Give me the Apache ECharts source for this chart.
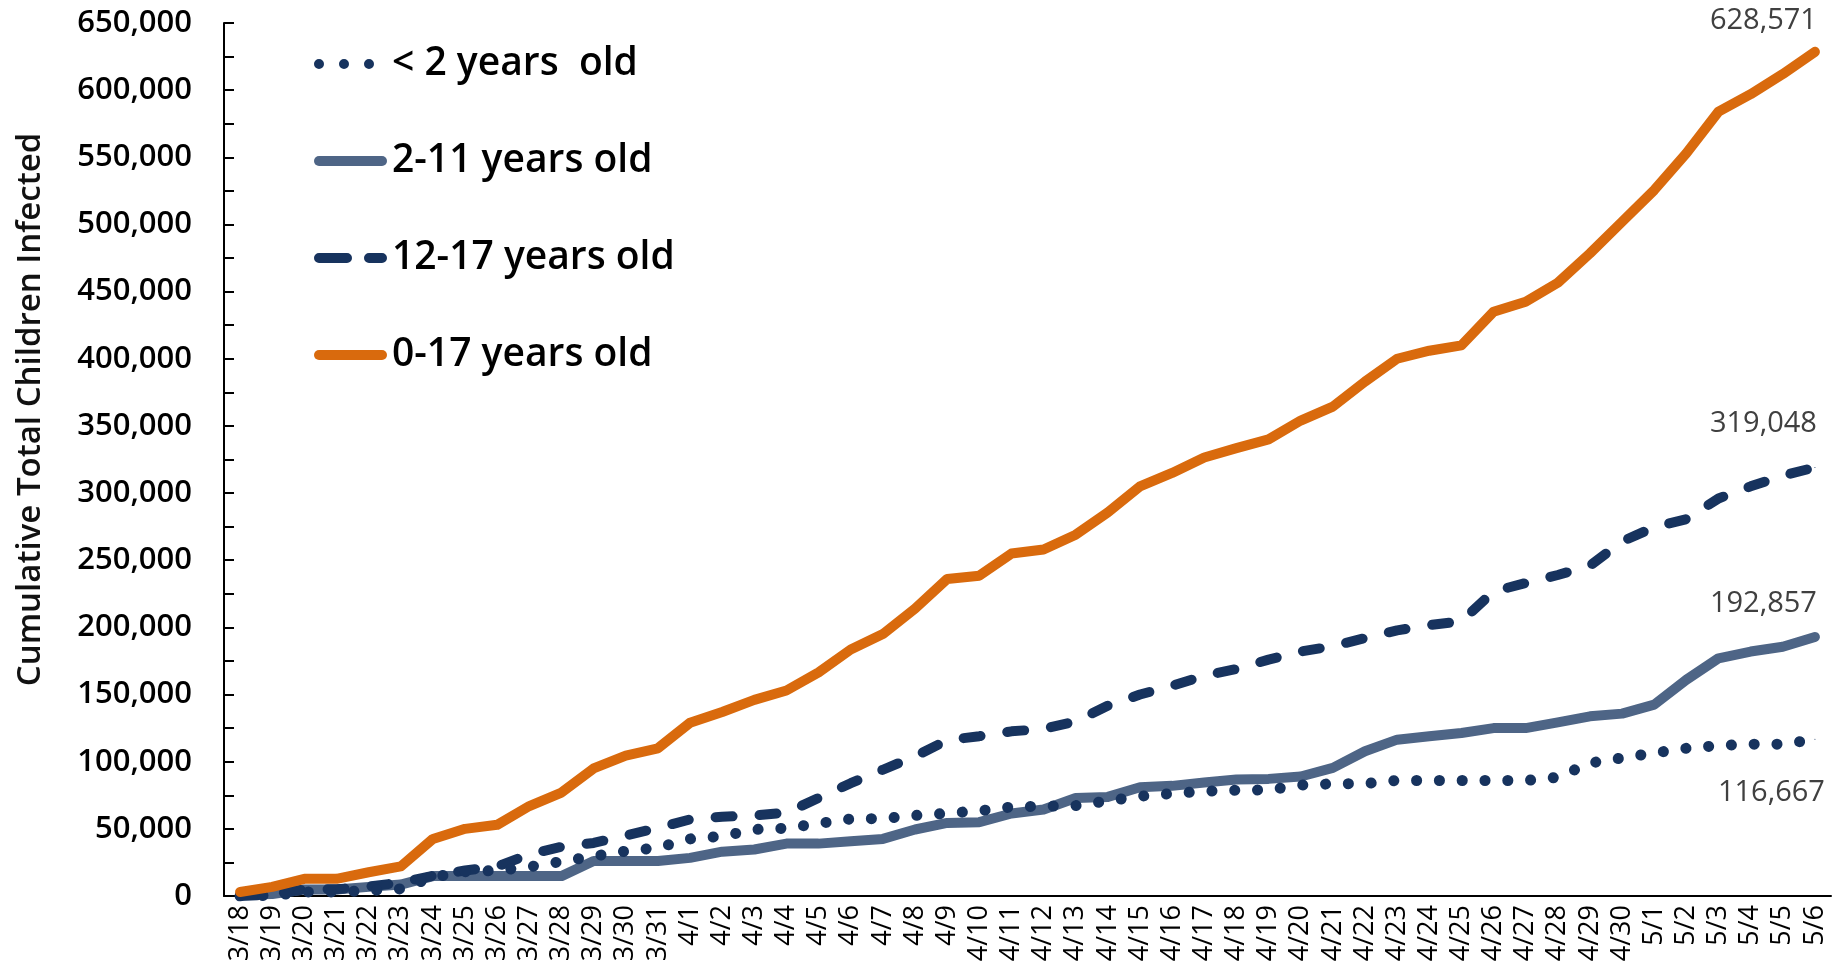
<!DOCTYPE html>
<html>
<head>
<meta charset="utf-8">
<title>Cumulative Total Children Infected</title>
<script src="https://cdn.jsdelivr.net/npm/echarts@6/dist/echarts.min.js"></script>
<style>
  html, body { margin: 0; padding: 0; background: #fff; }
  #chart { width: 1839px; height: 962px; }
</style>
</head>
<body>
<div id="chart"></div>
<script>
// dates on the x axis
const dates = [
    "3/18", "3/19", "3/20", "3/21", "3/22", "3/23", "3/24", "3/25", "3/26", "3/27",
    "3/28", "3/29", "3/30", "3/31", "4/1", "4/2", "4/3", "4/4", "4/5", "4/6",
    "4/7", "4/8", "4/9", "4/10", "4/11", "4/12", "4/13", "4/14", "4/15", "4/16",
    "4/17", "4/18", "4/19", "4/20", "4/21", "4/22", "4/23", "4/24", "4/25", "4/26",
    "4/27", "4/28", "4/29", "4/30", "5/1", "5/2", "5/3", "5/4", "5/5", "5/6"
];

// cumulative counts per age group
const under2 = [
    0, 500, 3000, 3000, 4000, 5300, 14000, 18000, 19000, 21700,
    25700, 29600, 33400, 36000, 42500, 44500, 49500, 50500, 54000, 57400,
    57700, 60000, 61600, 63400, 66300, 66800, 67300, 70800, 74300, 76300,
    78000, 78700, 79000, 82600, 83500, 83700, 86000, 86000, 86000, 86000,
    86000, 88400, 99000, 102800, 106500, 110000, 112000, 113000, 113000, 116667
];
const age2to11 = [
    1000, 1500, 4800, 4800, 6800, 8500, 14800, 14800, 14800, 14800,
    14800, 26000, 26000, 26000, 28400, 33000, 34600, 39000, 39000, 40800,
    42500, 49500, 54400, 55000, 61400, 64400, 73000, 73800, 81000, 82000,
    84500, 86700, 87200, 89000, 95400, 107800, 116400, 119000, 121400, 125000,
    125000, 129300, 133800, 135800, 142500, 161000, 177000, 182000, 185600, 192857
];
const age12to17 = [
    0, 1000, 5000, 5000, 7000, 10000, 15000, 19000, 22000, 31000,
    36600, 39500, 45000, 50700, 57000, 59000, 60000, 62000, 73000, 84000,
    94000, 104000, 116000, 119000, 122600, 124400, 130000, 141700, 150000, 156600,
    164000, 169000, 176000, 182000, 186000, 192000, 197800, 201700, 204500, 226800,
    233000, 239000, 246000, 264000, 274600, 280600, 296000, 305000, 313000, 319048
];
const age0to17 = [
    3000, 6800, 12800, 12800, 17700, 22000, 42500, 50000, 53000, 67000,
    77000, 95000, 104500, 110000, 129000, 137000, 146000, 153000, 166500, 183500,
    195000, 214000, 236000, 238500, 255000, 258000, 269000, 285600, 305000, 315000,
    326500, 333500, 340000, 354000, 364400, 383000, 400000, 406000, 410000, 435000,
    442500, 456600, 478500, 502000, 525600, 553000, 584000, 597000, 612000, 628571
];

const seriesNames = ["< 2 years  old", "2-11 years old", "12-17 years old", "0-17 years old"];

const NAVY = "#17335e";
const SLATE = "#4e6586";
const ORANGE = "#d96a0d";
const FONT = "'Open Sans', 'Noto Sans', sans-serif";

// legend swatches drawn as filled shapes in a 73 x 10 box
const ICON_SOLID = "path://M5 0H68A5 5 0 0 1 68 10H5A5 5 0 0 1 5 0Z";
const ICON_DASH = "path://M5 0H33A5 5 0 0 1 33 10H5A5 5 0 0 1 5 0Z" +
    "M55 0H68A5 5 0 0 1 68 10H55A5 5 0 0 1 55 0Z";
const ICON_DOT = "path://M0 5A5 5 0 1 0 10 5A5 5 0 1 0 0 5Z" +
    "M25 5A5 5 0 1 0 35 5A5 5 0 1 0 25 5Z" +
    "M50 5A5 5 0 1 0 60 5A5 5 0 1 0 50 5Z" +
    "M73 0L73 10L73 0Z";

const fmt = v => Math.round(v).toLocaleString("en-US");

// put a value label on the last point only
function withEndLabel(values, offset) {
    const last = values.length - 1;
    return values.map((v, i) => i !== last ? v : {
        value: v,
        symbol: "circle",
        symbolSize: 1,
        label: {
            show: true,
            position: "top",
            distance: 0,
            align: "right",
            verticalAlign: "middle",
            offset: offset,
            formatter: p => fmt(p.value),
            fontFamily: FONT,
            fontSize: 29,
            color: "#404040"
        }
    });
}

const chart = echarts.init(document.getElementById("chart"), null, { renderer: "canvas" });

const option = {
    animation: false,
    backgroundColor: "#ffffff",
    grid: {
        left: 224,
        right: 8,
        top: 23,
        bottom: 66,
        containLabel: false,
        outerBoundsMode: "none"
    },
    legend: {
        orient: "vertical",
        left: 309,
        top: 39,
        itemWidth: 73,
        itemHeight: 10,
        itemGap: 57,
        selectedMode: false,
        itemStyle: { borderWidth: 0 },
        textStyle: {
            fontFamily: FONT,
            fontSize: 39,
            fontWeight: 600,
            color: "#000",
            lineHeight: 40
        },
        data: [
            { name: seriesNames[0], icon: ICON_DOT },
            { name: seriesNames[1], icon: ICON_SOLID },
            { name: seriesNames[2], icon: ICON_DASH },
            { name: seriesNames[3], icon: ICON_SOLID }
        ]
    },
    xAxis: {
        type: "category",
        data: dates,
        boundaryGap: true,
        axisLine: { lineStyle: { color: "#000", width: 2 } },
        axisTick: { show: false },
        axisLabel: {
            rotate: 90,
            interval: 0,
            margin: 9,
            fontFamily: FONT,
            fontSize: 27,
            color: "#000"
        }
    },
    yAxis: {
        type: "value",
        min: 0,
        max: 650000,
        interval: 50000,
        name: "Cumulative Total Children Infected",
        nameLocation: "middle",
        nameGap: 177,
        nameTextStyle: {
            fontFamily: FONT,
            fontSize: 33,
            fontWeight: 600,
            color: "#111",
            padding: [0, 0, 0, 100]
        },
        splitLine: { show: false },
        axisLine: { show: true, lineStyle: { color: "#000", width: 2 } },
        axisTick: { show: true, inside: true, length: 10, lineStyle: { color: "#000", width: 2 } },
        minorTick: { show: true, splitNumber: 2, length: 10, lineStyle: { color: "#000", width: 2 } },
        axisLabel: {
            margin: 32,
            fontFamily: FONT,
            fontSize: 31,
            fontWeight: 600,
            color: "#000",
            formatter: v => fmt(v)
        }
    },
    series: [
        {
            name: seriesNames[0],
            type: "line",
            symbol: "none",
            z: 4,
            lineStyle: { color: NAVY, width: 11, type: [0.1, 22.7], cap: "round", join: "round" },
            itemStyle: { color: NAVY },
            data: withEndLabel(under2, [10, 54])
        },
        {
            name: seriesNames[1],
            type: "line",
            symbol: "none",
            z: 2,
            lineStyle: { color: SLATE, width: 10, cap: "round", join: "round" },
            itemStyle: { color: SLATE },
            data: withEndLabel(age2to11, [2, -33])
        },
        {
            name: seriesNames[2],
            type: "line",
            symbol: "none",
            z: 3,
            lineStyle: { color: NAVY, width: 10, type: [17, 27], cap: "round", join: "round" },
            itemStyle: { color: NAVY },
            data: withEndLabel(age12to17, [2, -43])
        },
        {
            name: seriesNames[3],
            type: "line",
            symbol: "none",
            z: 5,
            lineStyle: { color: ORANGE, width: 10, cap: "round", join: "round" },
            itemStyle: { color: ORANGE },
            data: withEndLabel(age0to17, [2, -31])
        }
    ]
};

chart.setOption(option);
window.addEventListener("resize", () => chart.resize());
</script>
</body>
</html>
